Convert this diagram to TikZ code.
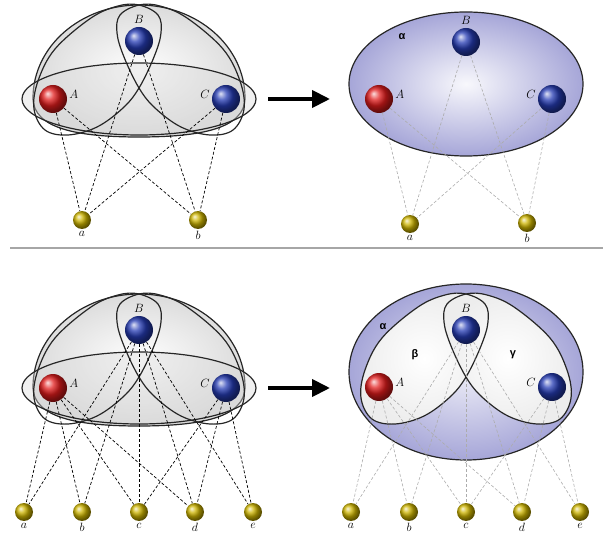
\documentclass[tikz,border=0pt]{standalone}
\usepackage{amsmath}
\usepackage{fontspec}
\newfontfamily\greekfont{Liberation Sans}
\usetikzlibrary{positioning,arrows.meta}

\definecolor{alphapurple}{RGB}{166,166,216}
\definecolor{ballblue}{RGB}{38,60,180}
\definecolor{ballred}{RGB}{225,28,28}
\definecolor{ballyellow}{RGB}{205,180,0}

\tikzset{
  bigball/.style={circle, minimum size=28pt, inner sep=0pt},
  smallball/.style={circle, minimum size=18pt, inner sep=0pt, ball color=ballyellow},
  lbl/.style={inner sep=1pt, font=\large},
  greek/.style={inner sep=1pt, font=\greekfont\bfseries\fontsize{11pt}{13pt}\selectfont},
  hedge/.style={draw=black!85, line width=1.2pt},
  dashblack/.style={black, line width=0.7pt, dash pattern=on 3pt off 2pt},
  dashgray/.style={gray!65, line width=0.6pt, dash pattern=on 3pt off 2pt},
  bigarrow/.style={line width=4pt, -{Triangle[length=18pt,width=17pt]}},
}

% the two leaf shaped hyperedges around B (left one and its mirror)
\newcommand{\lobes}[1]{%
  \path[#1] plot[smooth cycle, tension=0.6] coordinates {(0,-36) (19,-26) (22,-8) (15,16) (0,47) (-16,67) (-42,86) (-71,94) (-94,89) (-105,68) (-101,40) (-84,8) (-48,-23) (-21,-35)};
  \path[#1, xscale=-1] plot[smooth cycle, tension=0.6] coordinates {(0,-36) (19,-26) (22,-8) (15,16) (0,47) (-16,67) (-42,86) (-71,94) (-94,89) (-105,68) (-101,40) (-84,8) (-48,-23) (-21,-35)};
}

\begin{document}
\begin{tikzpicture}[x=1pt, y=-1pt]
    \useasboundingbox (0,0) rectangle (603,540);

    % top left
    \begin{scope}[shift={(139,41)}]
        \draw[hedge, shade, inner color=white, outer color=gray!28] (-106,57) arc[start angle=180, end angle=360, x radius=106, y radius=93] .. controls (106,88) and (60,96) .. (0,96) .. controls (-60,96) and (-106,88) .. cycle;
        \draw[hedge, fill=gray!30, fill opacity=0.4] (0,58) ellipse [x radius=117, y radius=36];
        \lobes{hedge}
        \node[bigball, ball color=ballblue] (B1) at (0,0) {};
        \node[bigball, ball color=ballred] (A1) at (-86,58) {};
        \node[bigball, ball color=ballblue] (C1) at (87,58) {};
        \node[smallball] (a1) at (-57,179) {};
        \node[smallball] (b1) at (59,179) {};
        \node[lbl, above=2pt of B1] (lB1) {$B$};
        \node[lbl, right=1pt of A1, yshift=5pt] (lA1) {$A$};
        \node[lbl, left=1pt of C1, yshift=5pt] (lC1) {$C$};
        \node[lbl, below=1pt of a1] (la1) {$a$};
        \node[lbl, below=1pt of b1] (lb1) {$b$};
    \end{scope}
    \foreach \s/\t in {A1/a1, A1/b1, B1/a1, B1/b1, C1/a1, C1/b1}
        \draw[dashblack] (\s) -- (\t);

    % top right
    \begin{scope}[shift={(466,42)}]
        \draw[hedge, shade, inner color=alphapurple!8, outer color=alphapurple] (0,42) ellipse [x radius=117, y radius=72];
        \node[bigball, ball color=ballblue] (B2) at (0,0) {};
        \node[bigball, ball color=ballred] (A2) at (-87,57) {};
        \node[bigball, ball color=ballblue] (C2) at (86,57) {};
        \node[smallball] (a2) at (-56,182) {};
        \node[smallball] (b2) at (61,181) {};
        \node[lbl, above=2pt of B2] (lB2) {$B$};
        \node[lbl, right=1pt of A2, yshift=5pt] (lA2) {$A$};
        \node[lbl, left=1pt of C2, yshift=5pt] (lC2) {$C$};
        \node[lbl, below=1pt of a2] (la2) {$a$};
        \node[lbl, below=1pt of b2] (lb2) {$b$};
        \node[greek] (alpha2) at (-64,-5) {α};
    \end{scope}
    \foreach \s/\t in {A2/a2, A2/b2, B2/a2, B2/b2, C2/a2, C2/b2}
        \draw[dashgray] (\s) -- (\t);

    % bottom left
    \begin{scope}[shift={(139,330)}]
        \draw[hedge, shade, inner color=white, outer color=gray!28] (-106,57) arc[start angle=180, end angle=360, x radius=106, y radius=93] .. controls (106,88) and (60,96) .. (0,96) .. controls (-60,96) and (-106,88) .. cycle;
        \draw[hedge, fill=gray!30, fill opacity=0.4] (0,58) ellipse [x radius=117, y radius=36];
        \lobes{hedge}
        \node[bigball, ball color=ballblue] (B3) at (0,0) {};
        \node[bigball, ball color=ballred] (A3) at (-86,58) {};
        \node[bigball, ball color=ballblue] (C3) at (87,58) {};
        \foreach \n/\x in {a/-115, b/-57, c/0, d/56, e/114} {
            \node[smallball] (\n3) at (\x,182) {};
            \node[lbl, below=1pt of \n3] (l\n3) {$\n$};
        }
        \node[lbl, above=2pt of B3] (lB3) {$B$};
        \node[lbl, right=1pt of A3, yshift=5pt] (lA3) {$A$};
        \node[lbl, left=1pt of C3, yshift=5pt] (lC3) {$C$};
    \end{scope}
    \foreach \s/\t in {A3/a3, A3/b3, A3/c3, A3/d3, B3/a3, B3/b3, B3/c3, B3/d3, B3/e3, C3/c3, C3/d3, C3/e3}
        \draw[dashblack] (\s) -- (\t);

    % bottom right
    \begin{scope}[shift={(466,330)}]
        \draw[hedge, shade, inner color=alphapurple!20, outer color=alphapurple] (0,42) ellipse [x radius=117, y radius=88];
        \lobes{shade, inner color=white, outer color=gray!14}
        \lobes{hedge}
        \node[bigball, ball color=ballblue] (B4) at (0,0) {};
        \node[bigball, ball color=ballred] (A4) at (-87,57) {};
        \node[bigball, ball color=ballblue] (C4) at (86,57) {};
        \foreach \n/\x in {a/-115, b/-57, c/0, d/56, e/114} {
            \node[smallball] (\n4) at (\x,182) {};
            \node[lbl, below=1pt of \n4] (l\n4) {$\n$};
        }
        \node[lbl, above=2pt of B4] (lB4) {$B$};
        \node[lbl, right=1pt of A4, yshift=5pt] (lA4) {$A$};
        \node[lbl, left=1pt of C4, yshift=5pt] (lC4) {$C$};
        \node[greek] (alpha4) at (-83,-3) {α};
        \node[greek] (beta4) at (-51,25) {β};
        \node[greek] (gamma4) at (47,25) {γ};
    \end{scope}
    \foreach \s/\t in {A4/a4, A4/b4, A4/c4, A4/d4, B4/a4, B4/b4, B4/c4, B4/d4, B4/e4, C4/c4, C4/d4, C4/e4}
        \draw[dashgray] (\s) -- (\t);

    % arrows and separator
    \coordinate (arrS1) at (268,99);
    \coordinate (arrE1) at (330,99);
    \coordinate (arrS2) at (268,388);
    \coordinate (arrE2) at (330,388);
    \draw[bigarrow] (arrS1) -- (arrE1);
    \draw[bigarrow] (arrS2) -- (arrE2);
    \coordinate (sepL) at (10,248);
    \coordinate (sepR) at (603,248);
    \draw[gray!70, line width=2pt] (sepL) -- (sepR);
\end{tikzpicture}
\end{document}
